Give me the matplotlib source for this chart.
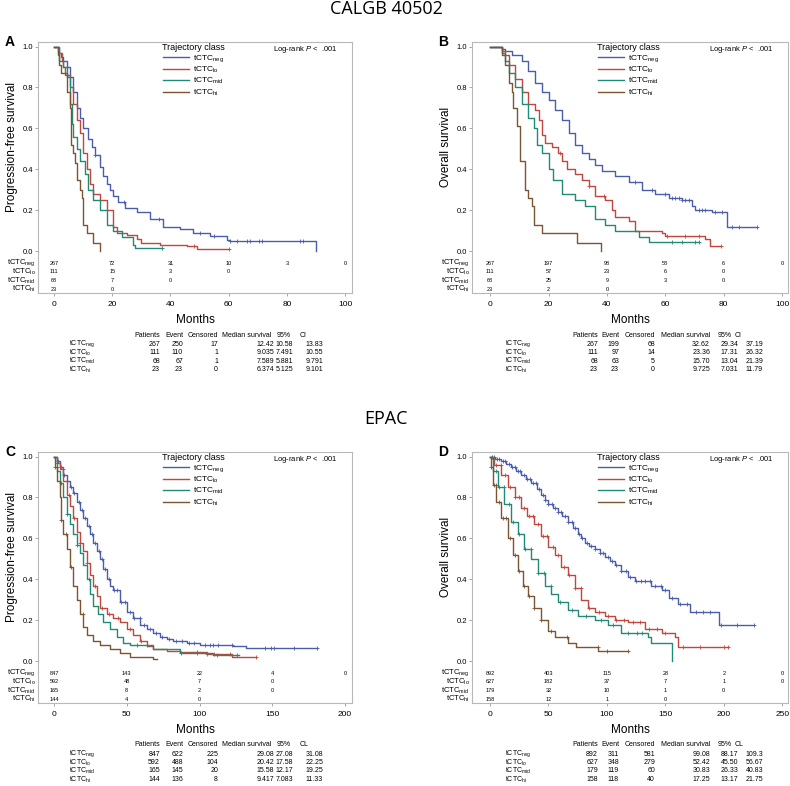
import numpy as np
import matplotlib.pyplot as plt
from matplotlib.lines import Line2D
from matplotlib.transforms import blended_transform_factory

plt.rcParams['font.family'] = ['Liberation Sans', 'DejaVu Sans']
plt.rcParams['mathtext.fontset'] = 'custom'
plt.rcParams['mathtext.rm'] = 'Liberation Sans'
plt.rcParams['mathtext.it'] = 'Liberation Sans:italic'

GROUPS = ['neg', 'lo', 'mid', 'hi']
COLORS = ['#4b5caa', '#c0473d', '#1f8a76', '#7b5532']

# ---- CALGB 40502, progression-free survival (A)
A_NEG_T = [0, 1.8, 2.5, 3.2, 4.4, 5.5, 6.6, 7.8, 8.9, 10, 11.8, 13, 14, 15.8, 17, 18.1, 19.2, 20.4, 22, 24.4, 28.4, 33, 37.6, 43.3, 47.9, 53.6, 59.4, 60.5, 90]
A_NEG_S = [1, 0.97, 0.95, 0.93, 0.9, 0.85, 0.78, 0.7, 0.65, 0.6, 0.55, 0.51, 0.47, 0.41, 0.37, 0.33, 0.3, 0.27, 0.24, 0.21, 0.19, 0.16, 0.12, 0.11, 0.09, 0.075, 0.055, 0.05, 0.0]
A_LO_T = [0, 1.5, 2.6, 3.2, 3.8, 5.5, 6.6, 7.8, 8.9, 10, 11.2, 12.4, 13.5, 15.8, 18.1, 20.4, 21.5, 25, 28.4, 30, 36.4, 45.6, 49, 60.3]
A_LO_S = [1, 0.97, 0.93, 0.9, 0.86, 0.8, 0.72, 0.64, 0.58, 0.48, 0.4, 0.33, 0.28, 0.25, 0.2, 0.12, 0.09, 0.08, 0.06, 0.04, 0.03, 0.025, 0.01, 0.01]
A_MID_T = [0, 1.8, 3.2, 4.4, 5.5, 6.1, 6.6, 7.8, 8.9, 10.7, 11.8, 13.5, 15.8, 18.1, 20.4, 23.2, 27.3, 27.8, 37]
A_MID_S = [1, 0.93, 0.9, 0.85, 0.72, 0.62, 0.56, 0.5, 0.44, 0.38, 0.3, 0.25, 0.2, 0.13, 0.1, 0.07, 0.03, 0.015, 0.015]
A_HI_T = [0, 1.5, 1.8, 2.4, 4.4, 5.5, 5.8, 6.6, 7.2, 7.8, 8.9, 9.5, 10, 11.2, 13.5, 15.8]
A_HI_S = [1, 0.96, 0.91, 0.87, 0.78, 0.7, 0.52, 0.48, 0.43, 0.35, 0.3, 0.26, 0.13, 0.09, 0.04, 0.0]
A_CENS = [[14, 24, 36, 50, 55, 60.5, 62.8, 66.4, 67.5, 70.3, 71.4, 84.5, 85.7],
          [48, 60.3], [37], []]
A_TICKS = [0, 20, 40, 60, 80, 100]
A_RISK = [[267, 72, 31, 10, 3, 0], [111, 15, 3, 0], [68, 7, 0], [23, 0]]
A_TABLE = [['267', '250', '17', '12.42', '10.58', '13.83'],
           ['111', '110', '1', '9.035', '7.491', '10.55'],
           ['68', '67', '1', '7.589', '5.881', '9.791'],
           ['23', '23', '0', '6.374', '5.125', '9.101']]

# ---- CALGB 40502, overall survival (B)
B_NEG_T = [0, 4, 5.1, 7.4, 10.9, 13.1, 15.4, 17.7, 20, 22.3, 24.6, 26.9, 29.1, 31.4, 33.7, 36, 38.3, 42.9, 47.4, 52, 56.6, 61.1, 65.7, 69.1, 70.3, 76, 81.1, 91.4]
B_NEG_S = [1, 0.99, 0.98, 0.96, 0.93, 0.88, 0.82, 0.78, 0.74, 0.69, 0.64, 0.58, 0.52, 0.48, 0.45, 0.42, 0.39, 0.37, 0.34, 0.3, 0.28, 0.26, 0.25, 0.22, 0.2, 0.19, 0.12, 0.12]
B_LO_T = [0, 4, 5.1, 6.3, 8.6, 10.9, 13.1, 15.4, 16.6, 17.7, 18.9, 21.1, 23.4, 24.6, 26.3, 29.1, 31.4, 33.7, 36, 39.4, 41.7, 42.9, 47.4, 49.7, 58.9, 60, 73.7, 75.4, 78.9]
B_LO_S = [1, 0.98, 0.96, 0.91, 0.84, 0.78, 0.72, 0.69, 0.64, 0.57, 0.53, 0.51, 0.48, 0.44, 0.4, 0.38, 0.35, 0.32, 0.27, 0.25, 0.2, 0.17, 0.15, 0.1, 0.09, 0.075, 0.06, 0.025, 0.025]
B_MID_T = [0, 4, 5.1, 6.3, 8.6, 10.9, 13.1, 14.9, 16, 17.7, 20, 21.7, 24.6, 29.1, 32.6, 36, 39.4, 42.9, 50.9, 54.3, 71.4]
B_MID_S = [1, 0.97, 0.93, 0.87, 0.8, 0.72, 0.65, 0.6, 0.52, 0.48, 0.4, 0.35, 0.28, 0.25, 0.22, 0.16, 0.13, 0.1, 0.07, 0.045, 0.045]
B_HI_T = [0, 4, 5.1, 6.3, 7.4, 8, 9.1, 10.3, 12, 13.1, 14.3, 14.9, 17.7, 29.7, 38]
B_HI_S = [1, 0.96, 0.91, 0.82, 0.78, 0.7, 0.61, 0.44, 0.3, 0.26, 0.22, 0.13, 0.09, 0.04, 0.0]
B_CENS = [[49.7, 55.4, 60, 62.3, 63.4, 64.6, 65.7, 66.9, 68, 71.4, 72.6, 73.7, 77.1, 79.4, 82.9, 85.1, 91.4],
          [24, 34, 39, 60.5, 66.9, 71.4, 78.9], [62.3, 65.7, 70.3, 71.4], []]
B_TICKS = [0, 20, 40, 60, 80, 100]
B_RISK = [[267, 197, 98, 58, 6, 0], [111, 57, 23, 6, 0], [68, 25, 9, 3, 0], [23, 2, 0]]
B_TABLE = [['267', '199', '68', '32.62', '29.34', '37.19'],
           ['111', '97', '14', '23.36', '17.31', '26.32'],
           ['68', '63', '5', '15.70', '13.04', '21.39'],
           ['23', '23', '0', '9.725', '7.031', '11.79']]

# ---- EPAC, progression-free survival (C)
C_NEG_T = [0, 2, 4.1, 6.4, 8.7, 11, 13.3, 15.6, 17.9, 20.2, 22.5, 24.7, 27, 29.3, 31.6, 33.9, 36.2, 38.5, 40.8, 45.4, 49.9, 54.5, 59.1, 63.7, 68.3, 72.9, 77.4, 82, 91.2, 100, 123, 132, 180.5]
C_NEG_S = [1, 0.98, 0.95, 0.91, 0.88, 0.85, 0.82, 0.78, 0.74, 0.7, 0.66, 0.62, 0.58, 0.54, 0.5, 0.45, 0.4, 0.37, 0.35, 0.29, 0.24, 0.21, 0.18, 0.16, 0.14, 0.12, 0.11, 0.1, 0.09, 0.08, 0.075, 0.065, 0.065]
C_LO_T = [0, 1.8, 4.1, 6.4, 8.7, 11, 13.3, 15.6, 17.9, 20.2, 22.5, 24.7, 27, 29.3, 31.6, 36.2, 40.8, 45.4, 50, 54.5, 59.1, 63.7, 68.3, 77.4, 86.6, 105, 122, 139]
C_LO_S = [1, 0.97, 0.94, 0.88, 0.81, 0.76, 0.7, 0.63, 0.58, 0.54, 0.48, 0.42, 0.37, 0.32, 0.26, 0.23, 0.21, 0.19, 0.16, 0.13, 0.1, 0.075, 0.06, 0.05, 0.045, 0.035, 0.02, 0.02]
C_MID_T = [0, 1.8, 4.1, 6.4, 8.7, 11, 13.3, 15.6, 17.9, 20.2, 22.5, 24.7, 27, 30.5, 33.9, 38.5, 43.1, 47.6, 52.2, 68.3, 86.6, 109, 127]
C_MID_S = [1, 0.93, 0.87, 0.8, 0.72, 0.67, 0.62, 0.57, 0.53, 0.47, 0.4, 0.33, 0.27, 0.23, 0.19, 0.16, 0.12, 0.09, 0.08, 0.06, 0.04, 0.03, 0.03]
C_HI_T = [0, 0.7, 2.3, 4.1, 5, 6.4, 8.7, 11, 13.3, 15.6, 17.9, 20.2, 22.5, 27, 31.6, 38.5, 45.4, 52.2, 68.3, 70.6]
C_HI_S = [1, 0.95, 0.88, 0.8, 0.69, 0.62, 0.55, 0.46, 0.37, 0.3, 0.23, 0.17, 0.13, 0.1, 0.08, 0.06, 0.04, 0.02, 0.01, 0.01]
C_CENS = [[3, 5, 7, 9, 12, 14, 17, 19, 21, 24, 26, 28, 31, 33, 35, 38, 41, 43, 46, 49, 52, 55, 59, 62, 66, 70, 74, 79, 84, 88, 93, 96, 104, 107, 109, 113, 122, 145, 149, 151, 165, 181],
          [2, 6, 10, 14, 18, 23, 28, 33, 38, 44, 52, 60, 98, 105, 110, 121, 139],
          [5, 9, 16, 24, 57, 64, 87, 98, 112, 126], [1, 2, 5, 8, 12, 20]]
C_TICKS = [0, 50, 100, 150, 200]
C_RISK = [[847, 143, 22, 4, 0], [592, 48, 7, 0], [165, 8, 2, 0], [144, 4, 0]]
C_TABLE = [['847', '622', '225', '29.08', '27.08', '31.08'],
           ['592', '488', '104', '20.42', '17.58', '22.25'],
           ['165', '145', '20', '15.58', '12.17', '19.25'],
           ['144', '136', '8', '9.417', '7.083', '11.33']]

# ---- EPAC, overall survival (D)
D_NEG_T = [0, 4, 9.5, 14, 18, 22, 26.6, 31, 35.2, 40, 43.8, 47, 49.6, 54, 58, 62, 66.8, 71, 75.4, 78, 81, 85, 89.7, 94, 98.3, 103, 107, 112, 118, 124, 138, 147, 153, 161, 171, 196, 226]
D_NEG_S = [1, 0.99, 0.98, 0.965, 0.95, 0.93, 0.91, 0.89, 0.87, 0.84, 0.81, 0.79, 0.77, 0.75, 0.73, 0.71, 0.68, 0.65, 0.62, 0.6, 0.58, 0.565, 0.55, 0.53, 0.51, 0.49, 0.47, 0.44, 0.41, 0.39, 0.37, 0.35, 0.31, 0.28, 0.24, 0.18, 0.18]
D_LO_T = [0, 3.7, 9.5, 15, 21, 26.6, 32, 38, 43.8, 49.6, 55.3, 61, 66.8, 72.5, 78.2, 84, 89.7, 98.3, 107, 118, 133, 147, 158, 161, 204]
D_LO_S = [1, 0.96, 0.91, 0.85, 0.8, 0.75, 0.71, 0.67, 0.61, 0.56, 0.52, 0.46, 0.42, 0.36, 0.3, 0.26, 0.24, 0.22, 0.2, 0.19, 0.16, 0.14, 0.12, 0.07, 0.07]
D_MID_T = [0, 2.3, 6.6, 12.3, 18, 23.8, 29.5, 35.2, 41, 46.7, 52.4, 58, 66.8, 75.4, 89.7, 101, 112, 135, 138, 155.6]
D_MID_S = [1, 0.93, 0.85, 0.77, 0.68, 0.62, 0.55, 0.5, 0.43, 0.37, 0.33, 0.29, 0.25, 0.22, 0.2, 0.18, 0.14, 0.12, 0.09, 0.0]
D_HI_T = [0, 0.9, 2.3, 5.2, 9.5, 15.2, 19.5, 23.8, 28, 32.4, 38, 43.8, 49.6, 55.3, 66.8, 74, 92.5, 118]
D_HI_S = [1, 0.95, 0.86, 0.78, 0.7, 0.6, 0.52, 0.44, 0.37, 0.32, 0.26, 0.2, 0.15, 0.12, 0.09, 0.07, 0.05, 0.05]
D_CENS = [[3, 6, 8, 11, 13, 16, 19, 21, 24, 26, 29, 32, 34, 37, 39, 42, 45, 47, 50, 53, 56, 58, 61, 64, 67, 70, 73, 76, 79, 83, 86, 90, 94, 97, 101, 104, 108, 112, 116, 120, 125, 129, 133, 137, 141, 146, 150, 156, 163, 169, 176, 182, 188, 198, 211, 226],
          [2, 5, 9, 13, 17, 21, 25, 29, 33, 37, 41, 45, 49, 54, 58, 63, 68, 73, 78, 85, 93, 101, 108, 115, 122, 128, 136, 143, 150, 165, 180, 200, 204],
          [2, 5, 8, 12, 16, 20, 25, 30, 35, 41, 46, 52, 60, 70, 82, 95, 105, 118, 126, 130],
          [1, 3, 5, 8, 11, 14, 17, 21, 25, 29, 33, 38, 44, 52, 66, 92, 100, 118]]
D_TICKS = [0, 50, 100, 150, 200, 250]
D_RISK = [[892, 403, 115, 28, 2, 0], [627, 182, 37, 7, 1, 0], [179, 32, 10, 1, 0], [158, 12, 1, 0]]
D_TABLE = [['892', '311', '581', '99.08', '88.17', '109.3'],
           ['627', '348', '279', '52.42', '45.50', '56.67'],
           ['179', '119', '60', '30.83', '26.33', '40.83'],
           ['158', '118', '40', '17.25', '13.17', '21.75']]

W, H = 790, 786
fig = plt.figure(figsize=(7.9, 7.86), dpi=100)

RISK_Y = [-0.057, -0.1, -0.143, -0.185]


def lab(g):
    return 'tCTC$_{\\mathrm{' + g + '}}$'


def fx(x):
    return x / W


def fy(y):
    return 1 - y / H


def panel(box, xlim, ticks, curves, cens, risk, table, ylabel, letter, ci, cols, hdr, top_tab):
    left, top, right, bottom = box
    ax = fig.add_axes([fx(left), fy(bottom), (right - left) / W, (bottom - top) / H])
    for i, (t, s) in enumerate(curves):
        ax.plot(t, s, drawstyle='steps-post', color=COLORS[i], lw=1.0)
        t_arr, s_arr = np.array(t), np.array(s)
        if cens[i]:
            c = np.array(cens[i])
            cy = s_arr[np.clip(np.searchsorted(t_arr, c, side='right') - 1, 0, None)]
            ax.plot(c, cy, ls='none', marker='+', ms=3.5, mew=0.6, color=COLORS[i])
    ax.set_xlim(*xlim)
    ax.set_ylim(-0.203, 1.022)
    ax.set_xticks(ticks)
    ax.set_yticks([0, 0.2, 0.4, 0.6, 0.8, 1.0])
    ax.set_yticklabels(['0.0', '0.2', '0.4', '0.6', '0.8', '1.0'])
    ax.tick_params(axis='x', labelsize=6, length=2.5, width=0.6, color='#999999', pad=3.5)
    ax.tick_params(axis='y', labelsize=5.5, length=2.2, width=0.6, color='#999999', pad=1.5)
    for sp in ax.spines.values():
        sp.set_color('#b8b8b8')
        sp.set_linewidth(0.8)

    # numbers at risk inside the frame
    tr = blended_transform_factory(ax.transAxes, ax.transData)
    for i, g in enumerate(GROUPS):
        ax.text(-0.008, RISK_Y[i], lab(g), transform=tr, ha='right', va='center', fontsize=5.5)
        for xv, n in zip(ticks, risk[i]):
            ax.text(xv, RISK_Y[i], str(n), ha='center', va='center', fontsize=4)

    handles = [Line2D([], [], color=c, lw=1.0) for c in COLORS]
    ax.legend(handles, [lab(g) for g in GROUPS], title='Trajectory class',
              loc='upper left', bbox_to_anchor=(0.395, 0.995), frameon=False,
              fontsize=6, title_fontsize=6.5, handlelength=3.1, handletextpad=0.5,
              labelspacing=0.12, borderpad=0, borderaxespad=0)
    ax.text(0.953, 0.972, 'Log-rank $P$ <  .001', transform=ax.transAxes,
            ha='right', va='center', fontsize=5.5)

    fig.text(fx(left - 26), fy((top + bottom) / 2 - 21), ylabel, rotation=90,
             ha='center', va='center', fontsize=8.5)
    fig.text(fx((left + right) / 2), fy(bottom + 27), 'Months', ha='center', va='center', fontsize=8.5)
    fig.text(fx(left - 33 if left < 100 else left - 34), fy(top), letter, ha='left', va='center',
             fontsize=10, fontweight='bold')

    # summary table under the panel
    ty = top_tab
    fs = 5
    names = ['Patients', 'Event', 'Censored', 'Median survival']
    for name, xr in zip(names, hdr[:4]):
        fig.text(fx(xr), fy(ty), name, ha='right', va='center', fontsize=fs)
    fig.text(fx(hdr[4]), fy(ty), '95%', ha='left', va='center', fontsize=fs)
    fig.text(fx(hdr[5]), fy(ty), ci, ha='left', va='center', fontsize=fs)
    for i, g in enumerate(GROUPS):
        yy = ty + 9 + 8.5 * i
        fig.text(fx(cols[0]), fy(yy), lab(g), ha='left', va='center', fontsize=fs)
        for val, xr in zip(table[i], cols[1:]):
            fig.text(fx(xr), fy(yy), val, ha='right', va='center', fontsize=fs)
    return ax


COLS_L = [69, 160, 183, 218, 274, 293, 323]
HDR_L = [160, 183, 218, 271, 277, 300]
COLS_R = [505, 598, 619, 655, 710, 738, 763]
HDR_R = [598, 619, 655, 710, 718, 735]

panel((38, 42, 352, 293), (-5.5, 102.4), A_TICKS,
      [(A_NEG_T, A_NEG_S), (A_LO_T, A_LO_S), (A_MID_T, A_MID_S), (A_HI_T, A_HI_S)],
      A_CENS, A_RISK, A_TABLE, 'Progression-free survival', 'A', 'CI', COLS_L, HDR_L, 335)
panel((472, 42, 788, 293), (-6.2, 102), B_TICKS,
      [(B_NEG_T, B_NEG_S), (B_LO_T, B_LO_S), (B_MID_T, B_MID_S), (B_HI_T, B_HI_S)],
      B_CENS, B_RISK, B_TABLE, 'Overall survival', 'B', 'CI', COLS_R, HDR_R, 335)
panel((38, 452, 352, 703), (-11, 204.8), C_TICKS,
      [(C_NEG_T, C_NEG_S), (C_LO_T, C_LO_S), (C_MID_T, C_MID_S), (C_HI_T, C_HI_S)],
      C_CENS, C_RISK, C_TABLE, 'Progression-free survival', 'C', 'CL', COLS_L, HDR_L, 745)
panel((472, 452, 788, 703), (-15.4, 255), D_TICKS,
      [(D_NEG_T, D_NEG_S), (D_LO_T, D_LO_S), (D_MID_T, D_MID_S), (D_HI_T, D_HI_S)],
      D_CENS, D_RISK, D_TABLE, 'Overall survival', 'D', 'CL', COLS_R, HDR_R, 745)

fig.text(fx(386), fy(9), 'CALGB 40502', ha='center', va='center', fontsize=13, family='Open Sans')
fig.text(fx(386), fy(419), 'EPAC', ha='center', va='center', fontsize=13, family='Open Sans')

fig.savefig('out.png', dpi=100)
